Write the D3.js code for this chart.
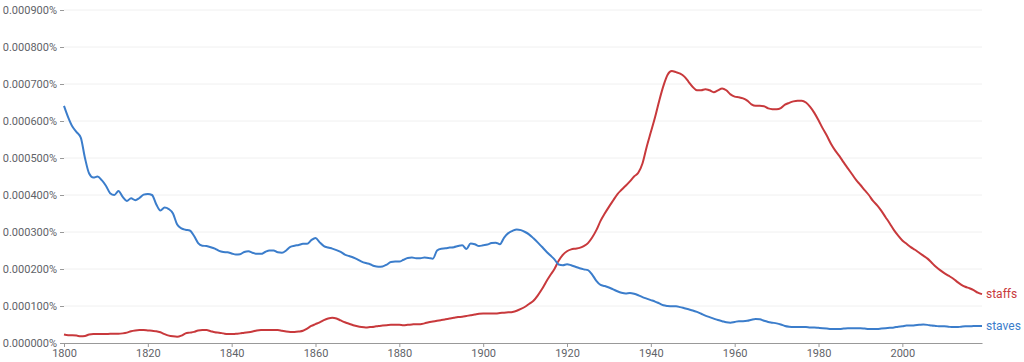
<!DOCTYPE html>
<html><head><meta charset="utf-8">
<script src="https://cdn.jsdelivr.net/npm/d3@7"></script>
<style>
html,body{margin:0;padding:0;background:#fff;}
svg{display:block;font-family:Roboto,"Noto Sans",sans-serif;}
</style></head><body>
<svg id="chart" width="1024" height="362"></svg>
<script>
const startYear = 1800;
const endYear = 2019;
const seriesNames = ["staffs", "staves"];
const yTicks = [0, 0.0001, 0.0002, 0.0003, 0.0004, 0.0005, 0.0006, 0.0007, 0.0008, 0.0009];
const xTicks = [1800, 1820, 1840, 1860, 1880, 1900, 1920, 1940, 1960, 1980, 2000];

// staves, % (1800..2019 yearly)
const staves = [
0.000641,0.000610,0.000585,0.000570,0.000555,0.000500,0.000458,0.000447,0.000450,0.000440,
0.000425,0.000405,0.000400,0.000411,0.000395,0.000384,0.000391,0.000386,0.000392,0.000401,
0.000403,0.000400,0.000375,0.000358,0.000366,0.000362,0.000350,0.000320,0.000310,0.000306,
0.000304,0.000290,0.000270,0.000263,0.000262,0.000259,0.000255,0.000249,0.000246,0.000245,
0.000242,0.000239,0.000240,0.000246,0.000248,0.000244,0.000241,0.000241,0.000246,0.000250,
0.000250,0.000245,0.000244,0.000250,0.000260,0.000263,0.000265,0.000268,0.000268,0.000278,
0.000284,0.000272,0.000262,0.000258,0.000255,0.000251,0.000246,0.000239,0.000235,0.000231,
0.000226,0.000220,0.000216,0.000213,0.000208,0.000206,0.000207,0.000212,0.000219,0.000220,
0.000220,0.000225,0.000230,0.000231,0.000229,0.000229,0.000231,0.000230,0.000228,0.000250,
0.000255,0.000256,0.000258,0.000259,0.000262,0.000264,0.000254,0.000269,0.000267,0.000262,
0.000264,0.000266,0.000270,0.000271,0.000267,0.000285,0.000297,0.000303,0.000307,0.000305,
0.000300,0.000293,0.000283,0.000272,0.000260,0.000248,0.000237,0.000226,0.000212,0.000210,
0.000213,0.000210,0.000206,0.000202,0.000199,0.000197,0.000185,0.000168,0.000157,0.000154,
0.000150,0.000145,0.000140,0.000136,0.000134,0.000135,0.000133,0.000129,0.000124,0.000120,
0.000116,0.000112,0.000107,0.000102,0.000100,0.000099,0.000099,0.000097,0.000094,0.000091,
0.000088,0.000084,0.000079,0.000074,0.000070,0.000066,0.000062,0.000059,0.000056,0.000055,
0.000057,0.000059,0.000059,0.000060,0.000063,0.000065,0.000064,0.000060,0.000057,0.000055,
0.000053,0.000050,0.000046,0.000044,0.000043,0.000043,0.000043,0.000043,0.000042,0.000042,
0.000041,0.000040,0.000039,0.000038,0.000038,0.000038,0.000039,0.000040,0.000040,0.000040,
0.000040,0.000039,0.000038,0.000038,0.000038,0.000039,0.000040,0.000041,0.000042,0.000044,
0.000045,0.000047,0.000047,0.000048,0.000049,0.000050,0.000049,0.000047,0.000046,0.000045,
0.000045,0.000044,0.000043,0.000043,0.000044,0.000045,0.000045,0.000046,0.000046,0.000046
];

// staffs, % (1800..2019 yearly)
const staffs = [
0.000023,0.000021,0.000021,0.000020,0.000018,0.000019,0.000023,0.000024,0.000024,0.000024,
0.000024,0.000025,0.000025,0.000025,0.000026,0.000028,0.000032,0.000034,0.000035,0.000035,
0.000034,0.000033,0.000032,0.000029,0.000024,0.000020,0.000018,0.000017,0.000020,0.000026,
0.000028,0.000030,0.000034,0.000035,0.000035,0.000032,0.000029,0.000028,0.000026,0.000024,
0.000024,0.000025,0.000026,0.000028,0.000029,0.000031,0.000034,0.000035,0.000035,0.000035,
0.000035,0.000035,0.000033,0.000031,0.000030,0.000030,0.000031,0.000033,0.000039,0.000046,
0.000051,0.000056,0.000062,0.000066,0.000068,0.000066,0.000061,0.000056,0.000052,0.000048,
0.000045,0.000043,0.000042,0.000043,0.000044,0.000046,0.000047,0.000048,0.000049,0.000049,
0.000049,0.000048,0.000049,0.000050,0.000051,0.000051,0.000053,0.000056,0.000058,0.000060,
0.000062,0.000064,0.000066,0.000068,0.000070,0.000071,0.000073,0.000075,0.000077,0.000079,
0.000080,0.000080,0.000080,0.000080,0.000081,0.000082,0.000083,0.000084,0.000087,0.000092,
0.000098,0.000106,0.000114,0.000128,0.000145,0.000165,0.000183,0.000200,0.000222,0.000238,
0.000248,0.000253,0.000255,0.000257,0.000262,0.000270,0.000285,0.000305,0.000330,0.000350,
0.000368,0.000385,0.000402,0.000414,0.000425,0.000437,0.000450,0.000460,0.000485,0.000530,
0.000570,0.000610,0.000655,0.000695,0.000725,0.000735,0.000732,0.000728,0.000720,0.000706,
0.000692,0.000683,0.000683,0.000686,0.000683,0.000678,0.000683,0.000688,0.000683,0.000672,
0.000666,0.000664,0.000661,0.000655,0.000645,0.000641,0.000641,0.000640,0.000634,0.000632,
0.000632,0.000635,0.000644,0.000649,0.000653,0.000655,0.000655,0.000650,0.000638,0.000622,
0.000602,0.000580,0.000560,0.000538,0.000520,0.000505,0.000488,0.000472,0.000456,0.000440,
0.000427,0.000413,0.000400,0.000384,0.000372,0.000357,0.000340,0.000323,0.000305,0.000290,
0.000277,0.000268,0.000259,0.000252,0.000244,0.000236,0.000228,0.000217,0.000206,0.000197,
0.000189,0.000182,0.000175,0.000166,0.000158,0.000152,0.000148,0.000143,0.000136,0.000132
];

const colors = {staffs: "#c8393c", staves: "#3b7dcb"};

const svg = d3.select("#chart");
const margin = {left: 64, right: 42, top: 10, bottom: 19};
const W = 1024, H = 362;

const x = d3.scaleLinear().domain([startYear, endYear]).range([margin.left, W - margin.right]);
const y = d3.scaleLinear().domain([0, 0.0009]).range([H - margin.bottom, margin.top]);

// gridlines
svg.append("g").selectAll("line").data(yTicks.slice(1)).join("line")
  .attr("x1", x(startYear)).attr("x2", x(endYear))
  .attr("y1", d => y(d)).attr("y2", d => y(d))
  .attr("stroke", "#f0f0f0").attr("stroke-width", 1);

// y axis
const yAxis = svg.append("g").attr("transform", `translate(${margin.left},0)`)
  .call(d3.axisLeft(y).tickValues(yTicks).tickFormat(d => d3.format(".6f")(d) + "%").tickSize(4).tickPadding(3));
yAxis.select(".domain").remove();
yAxis.selectAll(".tick line").attr("stroke", "#999");
yAxis.selectAll("text").attr("fill", "#5f6368").style("font-size", "11px").style("font-family", "Roboto, sans-serif");

// x axis
const xAxis = svg.append("g").attr("transform", `translate(0,${y(0)})`)
  .call(d3.axisBottom(x).tickValues(xTicks).tickFormat(d3.format("d")).tickSize(4).tickSizeOuter(0).tickPadding(2));
xAxis.select(".domain").attr("stroke", "#999");
xAxis.selectAll(".tick line").attr("stroke", "#999");
xAxis.selectAll("text").attr("fill", "#5f6368").style("font-size", "11px").style("font-family", "Roboto, sans-serif");

const years = d3.range(startYear, endYear + 1);
const data = {staffs, staves};
const line = d3.line().x((d, i) => x(years[i])).y(d => y(d)).curveMonotoneX;

seriesNames.forEach(name => {
  const vals = data[name];
  svg.append("path").datum(vals)
    .attr("fill", "none").attr("stroke", colors[name]).attr("stroke-width", 2)
    .attr("stroke-linejoin", "round")
    .attr("d", d3.line().x((d, i) => x(years[i])).y(d => y(d)).curve(d3.curveMonotoneX));
  svg.append("text")
    .attr("x", x(endYear) + 4).attr("y", y(vals[vals.length - 1]))
    .attr("dy", "0.35em")
    .attr("fill", colors[name]).style("font-size", "12px")
    .text(name);
});
</script>
</body></html>
